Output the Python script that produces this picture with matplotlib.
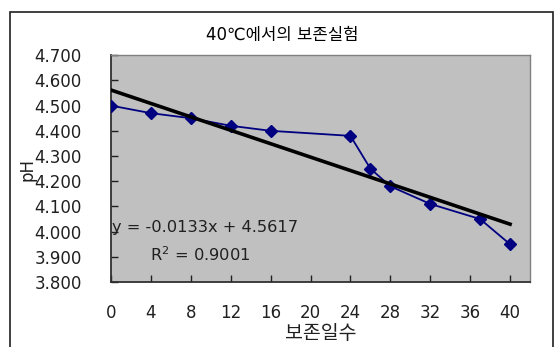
import numpy as np
import matplotlib.pyplot as plt
from matplotlib.patches import Rectangle

plt.rcParams['font.family'] = ['DejaVu Sans', 'Noto Sans CJK KR']

# 보존일수별 pH 측정값
days = [0, 4, 8, 12, 16, 24, 26, 28, 32, 37, 40]
ph = [4.50, 4.47, 4.45, 4.42, 4.40, 4.38, 4.25, 4.18, 4.11, 4.05, 3.95]

# 선형 추세선 계수
slope = -0.0133
intercept = 4.5617
r_squared = 0.9001

x_ticks = [0, 4, 8, 12, 16, 20, 24, 28, 32, 36, 40]
y_ticks = [3.8, 3.9, 4.0, 4.1, 4.2, 4.3, 4.4, 4.5, 4.6, 4.7]

fig = plt.figure(figsize=(5.55, 3.47), dpi=100)
ax = fig.add_axes([0.2, 0.187, 0.755, 0.654])
ax.set_facecolor('#c0c0c0')

ax.plot(days, ph, color='#000080', linewidth=1.3, marker='D', markersize=6.5,
        markerfacecolor='#000080', markeredgecolor='#000080', zorder=3)

trend_x = np.array([days[0], days[-1]])
ax.plot(trend_x, slope * trend_x + intercept, color='black', linewidth=2.6, zorder=4)

ax.set_xlim(0, 42)
ax.set_ylim(3.8, 4.7)
ax.set_xticks(x_ticks)
ax.set_yticks(y_ticks)
ax.set_yticklabels(['%.3f' % v for v in y_ticks])
ax.tick_params(axis='y', direction='in', length=5, width=1, pad=21, labelsize=12, colors='#202020')
ax.tick_params(axis='x', direction='in', length=5, width=1, pad=16, labelsize=12, colors='#202020')

for side in ['left', 'bottom']:
    ax.spines[side].set_color('#303030')
    ax.spines[side].set_linewidth(1.3)
for side in ['top', 'right']:
    ax.spines[side].set_color('#808080')
    ax.spines[side].set_linewidth(1.0)

ax.text(0.1, 4.018, 'y = -0.0133x + 4.5617', fontsize=11.7, color='#202020',
        va='center', ha='left', zorder=5)
ax.text(3.9, 3.907, 'R$^2$ = %.4f' % r_squared, fontsize=11.7, color='#202020',
        va='center', ha='left', zorder=5)

ax.set_xlabel('보존일수', fontsize=14, labelpad=1, color='#202020')

# 세로축 제목
fig.text(27 / 555, 1 - 170 / 347, 'pH', fontsize=12, rotation=90,
         ha='center', va='center', color='#202020')

fig.text(282 / 555, 1 - 35 / 347, '40℃에서의 보존실험', fontsize=12, ha='center', va='center')

# 차트 영역 테두리
fig.patches.append(Rectangle((10 / 555, -0.05), 543 / 555, 1.05 - 12 / 347,
                             transform=fig.transFigure, fill=False,
                             edgecolor='#202020', linewidth=1.2))

fig.savefig('out.png', dpi=100)
